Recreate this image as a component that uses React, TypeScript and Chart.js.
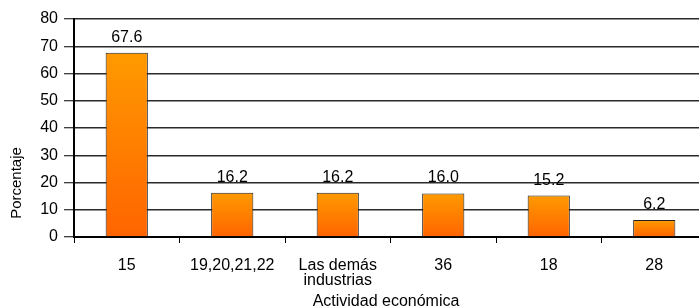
import React, { useEffect, useRef } from "react";
import { Chart, registerables } from "chart.js";

Chart.register(...registerables);

const categories: (string | string[])[] = ["15", "19,20,21,22", ["Las demás", "industrias"], "36", "18", "28"];
const values: number[] = [67.6, 16.2, 16.2, 16.0, 15.2, 6.2];
const yTicks = { min: 0, max: 80, step: 10 };
const xTitle = "Actividad económica";
const yTitle = "Porcentaje";

const FONT = "'Liberation Sans', Arial, sans-serif";

const labelsPlugin = {
  id: "customLabels",
  afterDatasetsDraw(chart: any) {
    const ctx = chart.ctx;
    const meta = chart.getDatasetMeta(0);
    ctx.save();
    ctx.fillStyle = "#000";
    ctx.font = `16px ${FONT}`;
    ctx.textAlign = "center";
    ctx.textBaseline = "alphabetic";
    meta.data.forEach((el: any, i: number) => {
      ctx.fillText(values[i].toFixed(1), el.x, el.y - 11);
    });
    ctx.restore();
  },
  afterDraw(chart: any) {
    const ctx = chart.ctx;
    ctx.save();
    ctx.fillStyle = "#000";
    ctx.font = `16px ${FONT}`;
    ctx.textAlign = "center";
    ctx.textBaseline = "alphabetic";
    ctx.fillText(xTitle, 386, 306);
    ctx.font = `15px ${FONT}`;
    ctx.textBaseline = "middle";
    ctx.translate(17, 183);
    ctx.rotate(-Math.PI / 2);
    ctx.fillText(yTitle, 0, 0);
    ctx.restore();
  },
};

export default function App() {
  const ref = useRef<HTMLCanvasElement>(null);
  useEffect(() => {
    if (!ref.current) return;
    const chart = new Chart(ref.current, {
      type: "bar",
      data: {
        labels: categories,
        datasets: [
          {
            data: values,
            backgroundColor: (c: any) => {
              const ch = c.chart;
              const ys = ch.scales && ch.scales.y;
              if (!ch.chartArea || !ys || c.raw === undefined) return "#ff8800";
              const top = ys.getPixelForValue(c.raw);
              const bot = ys.getPixelForValue(0);
              const g = ch.ctx.createLinearGradient(0, top, 0, bot);
              g.addColorStop(0, "#ff9a00");
              g.addColorStop(1, "#ff6400");
              return g;
            },
            borderColor: "#222",
            borderWidth: 1,
            barPercentage: 0.4,
            categoryPercentage: 1,
          },
        ],
      },
      options: {
        animation: false,
        responsive: false,
        maintainAspectRatio: false,
        layout: { padding: { top: 19, right: 9, left: 0, bottom: 0 } },
        plugins: { legend: { display: false }, tooltip: { enabled: false } },
        scales: {
          x: {
            offset: true,
            afterFit: (s: any) => {
              s.height = 70;
            },
            grid: {
              offset: true,
              drawOnChartArea: false,
              drawTicks: true,
              tickLength: 6,
              color: "#000",
              lineWidth: 1,
            },
            border: { color: "#000", width: 2 },
            ticks: {
              color: "#000",
              font: { family: FONT, size: 16, lineHeight: 0.94 },
              padding: 15,
              maxRotation: 0,
              autoSkip: false,
            },
          },
          y: {
            min: yTicks.min,
            max: yTicks.max,
            afterFit: (s: any) => {
              s.width = 74;
            },
            grid: {
              color: "#2a2a2a",
              lineWidth: 1.5,
              tickLength: 10,
              tickColor: "#000",
              tickWidth: 1,
            },
            border: { color: "#000", width: 2 },
            ticks: {
              stepSize: yTicks.step,
              color: "#000",
              font: { family: FONT, size: 16 },
              padding: 6,
            },
          },
        },
      },
      plugins: [labelsPlugin],
    });
    return () => chart.destroy();
  }, []);
  return (
    <div style={{ position: "fixed", left: 0, top: 0, width: 699, height: 307, overflow: "hidden", background: "#fff" }}>
      <canvas ref={ref} width={716} height={307} style={{ display: "block", width: 716, height: 307 }} />
    </div>
  );
}
